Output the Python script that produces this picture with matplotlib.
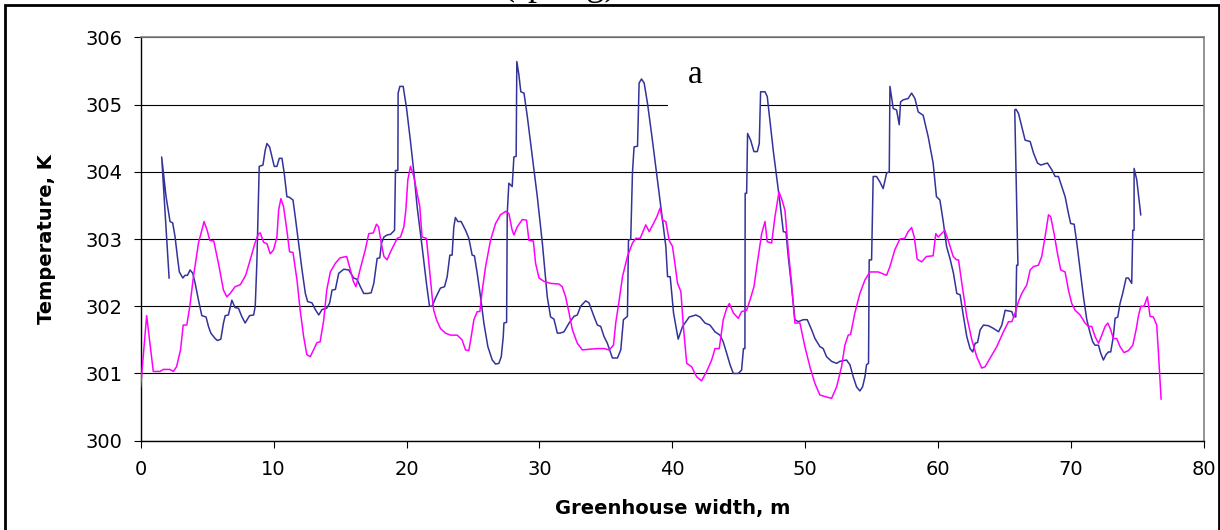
import matplotlib
matplotlib.use('Agg')
import matplotlib.pyplot as plt
from matplotlib.patches import Rectangle

# blue curve (Greenhouse width, m / Temperature, K)
blue_x = [2.14, 1.58, 1.91, 2.21, 2.41, 2.59, 2.76, 2.91, 3.17, 3.34, 3.52, 3.72, 3.92, 4.1, 4.35, 4.6, 4.92,
          5.1, 5.28, 5.6, 5.78, 6.03, 6.23, 6.36, 6.6, 6.86, 7.1, 7.36, 7.6, 7.86, 8.19, 8.5, 8.62, 8.74, 8.92,
          9.2, 9.37, 9.5, 9.7, 9.87, 10.05, 10.25, 10.43, 10.63, 10.8, 11.0, 11.2, 11.46, 11.63, 11.88, 12.14,
          12.39, 12.56, 12.89, 13.14, 13.4, 13.64, 14.0, 14.22, 14.4, 14.65, 14.9, 15.28, 15.65, 16.03, 16.28,
          16.53, 16.78, 17.1, 17.34, 17.54, 17.79, 17.99, 18.12, 18.3, 18.54, 18.8, 19.1, 19.17, 19.35, 19.37,
          19.5, 19.75, 20.0, 20.3, 20.55, 20.8, 21.17, 21.5, 21.73, 21.93, 22.18, 22.55, 22.86, 23.06, 23.26,
          23.43, 23.56, 23.68, 23.86, 24.11, 24.44, 24.69, 24.94, 25.11, 25.32, 25.57, 25.82, 26.12, 26.45,
          26.7, 26.95, 27.13, 27.28, 27.33, 27.53, 27.58, 27.7, 27.95, 28.08, 28.25, 28.3, 28.45, 28.6, 28.84,
          29.09, 29.46, 29.84, 30.22, 30.59, 30.84, 31.09, 31.35, 31.55, 31.85, 32.23, 32.6, 32.85, 33.1,
          33.48, 33.73, 34.1, 34.36, 34.61, 34.86, 35.11, 35.49, 35.87, 36.12, 36.32, 36.62, 36.7, 36.87,
          37.0, 37.12, 37.38, 37.5, 37.68, 37.88, 38.13, 38.5, 38.88, 39.26, 39.51, 39.64, 39.84, 40.09,
          40.44, 40.77, 41.27, 41.77, 42.08, 42.46, 42.83, 43.21, 43.58, 43.83, 44.09, 44.34, 44.59, 44.96,
          45.21, 45.35, 45.46, 45.48, 45.59, 45.66, 45.89, 46.14, 46.39, 46.54, 46.64, 46.97, 47.14, 47.34,
          47.59, 47.84, 48.1, 48.35, 48.55, 48.72, 48.97, 49.22, 49.47, 49.85, 50.15, 50.48, 50.73, 51.1,
          51.35, 51.6, 51.98, 52.36, 52.6, 53.1, 53.36, 53.61, 53.86, 54.11, 54.31, 54.49, 54.61, 54.76,
          54.81, 54.99, 55.11, 55.36, 55.61, 55.86, 56.12, 56.32, 56.37, 56.62, 56.87, 57.07, 57.17, 57.37,
          57.74, 58.0, 58.25, 58.5, 58.87, 59.25, 59.62, 59.87, 60.13, 60.38, 60.63, 60.9, 61.15, 61.4,
          61.65, 61.9, 62.15, 62.4, 62.6, 62.78, 62.96, 63.16, 63.41, 63.78, 64.16, 64.54, 64.79, 65.04,
          65.29, 65.54, 65.66, 65.84, 65.9, 66.0, 65.76, 65.85, 66.04, 66.29, 66.54, 66.92, 67.17, 67.47,
          67.72, 68.22, 68.55, 68.8, 69.05, 69.3, 69.55, 69.8, 69.97, 70.23, 70.43, 70.68, 70.93, 71.18,
          71.43, 71.63, 71.8, 72.06, 72.23, 72.43, 72.63, 72.81, 72.98, 73.18, 73.31, 73.51, 73.68, 73.88,
          74.14, 74.31, 74.56, 74.64, 74.74, 74.74, 74.94, 75.24]
blue_t = [302.42, 304.22, 303.63, 303.26, 303.24, 303.03, 302.74, 302.51, 302.42, 302.46, 302.46, 302.54,
          302.49, 302.34, 302.09, 301.86, 301.84, 301.7, 301.6, 301.52, 301.49, 301.51, 301.75, 301.86,
          301.87, 302.09, 301.98, 301.97, 301.85, 301.75, 301.86, 301.87, 302.0, 302.64, 304.08, 304.1,
          304.32, 304.42, 304.37, 304.23, 304.08, 304.08, 304.2, 304.2, 303.98, 303.63, 303.62, 303.58,
          303.33, 302.94, 302.54, 302.19, 302.07, 302.05, 301.95, 301.87, 301.95, 301.97, 302.05, 302.24,
          302.25, 302.49, 302.55, 302.54, 302.42, 302.4, 302.29, 302.19, 302.19, 302.2, 302.34, 302.71,
          302.72, 302.94, 303.03, 303.06, 303.07, 303.13, 304.02, 304.02, 305.17, 305.27, 305.27, 304.95,
          304.45, 304.0, 303.48, 302.89, 302.34, 302.0, 302.0, 302.12, 302.27, 302.29, 302.44, 302.76,
          302.76, 303.18, 303.32, 303.26, 303.26, 303.13, 303.01, 302.76, 302.75, 302.49, 302.14, 301.75,
          301.4, 301.2, 301.14, 301.15, 301.25, 301.55, 301.75, 301.76, 303.38, 303.83, 303.78, 304.22,
          304.23, 305.64, 305.45, 305.19, 305.17, 304.82, 304.23, 303.63, 302.94, 302.14, 301.84, 301.81,
          301.6, 301.6, 301.62, 301.75, 301.85, 301.87, 302.0, 302.08, 302.05, 301.85, 301.72, 301.7,
          301.55, 301.45, 301.23, 301.23, 301.35, 301.8, 301.85, 302.98, 303.0, 303.99, 304.37, 304.38,
          305.32, 305.38, 305.32, 305.02, 304.47, 303.88, 303.28, 302.89, 302.44, 302.44, 301.9, 301.51,
          301.7, 301.84, 301.87, 301.84, 301.75, 301.72, 301.62, 301.57, 301.47, 301.3, 301.13, 301.0,
          301.0, 301.05, 301.37, 301.37, 303.68, 303.68, 304.57, 304.47, 304.3, 304.3, 304.42, 305.19,
          305.19, 305.12, 304.77, 304.32, 303.93, 303.53, 303.11, 303.1, 302.74, 302.29, 301.8, 301.77,
          301.8, 301.8, 301.65, 301.52, 301.4, 301.37, 301.25, 301.18, 301.15, 301.18, 301.2, 301.13,
          300.95, 300.8, 300.74, 300.8, 300.95, 301.13, 301.15, 302.69, 302.69, 303.93, 303.93, 303.85,
          303.75, 303.98, 304.0, 305.27, 304.94, 304.92, 304.7, 305.04, 305.07, 305.09, 305.17, 305.09,
          304.89, 304.84, 304.52, 304.13, 303.63, 303.58, 303.26, 302.89, 302.7, 302.49, 302.19, 302.17,
          301.85, 301.55, 301.37, 301.32, 301.45, 301.46, 301.65, 301.72, 301.71, 301.67, 301.62, 301.72,
          301.94, 301.93, 301.92, 301.85, 301.84, 302.61, 302.61, 304.92, 304.93, 304.87, 304.67, 304.47,
          304.45, 304.28, 304.13, 304.1, 304.13, 304.03, 303.93, 303.93, 303.78, 303.63, 303.38, 303.23,
          303.22, 302.94, 302.54, 302.14, 301.8, 301.6, 301.47, 301.42, 301.42, 301.3, 301.2, 301.28,
          301.32, 301.32, 301.55, 301.82, 301.84, 302.04, 302.19, 302.42, 302.42, 302.34, 303.13, 303.13,
          304.05, 303.88, 303.36]

# magenta curve
pink_x = [0.0, 0.45, 0.95, 1.46, 1.7, 2.2, 2.46, 2.7, 3.0, 3.2, 3.47, 3.7, 3.97, 4.35, 4.77, 5.0, 5.2, 5.5,
          5.85, 6.23, 6.48, 6.73, 7.1, 7.5, 7.9, 8.24, 8.6, 8.87, 9.0, 9.25, 9.5, 9.75, 10.0, 10.25, 10.38,
          10.55, 10.75, 11.0, 11.2, 11.46, 11.76, 12.0, 12.26, 12.5, 12.76, 13.0, 13.27, 13.5, 13.77, 14.0,
          14.27, 14.65, 15.0, 15.5, 15.78, 16.0, 16.2, 16.5, 16.9, 17.16, 17.5, 17.74, 17.9, 18.1, 18.3,
          18.54, 18.8, 19.05, 19.3, 19.55, 19.8, 19.95, 20.1, 20.3, 20.55, 20.8, 21.0, 21.17, 21.5, 21.68,
          21.93, 22.05, 22.26, 22.55, 22.93, 23.31, 23.81, 24.18, 24.44, 24.69, 24.87, 25.07, 25.32, 25.52,
          25.7, 25.95, 26.32, 26.7, 27.07, 27.45, 27.7, 27.95, 28.08, 28.33, 28.71, 29.03, 29.21, 29.54,
          29.71, 29.97, 30.34, 30.84, 31.47, 31.72, 31.97, 32.23, 32.48, 32.85, 33.23, 33.73, 34.36, 34.86,
          35.24, 35.57, 35.74, 36.0, 36.25, 36.62, 37.0, 37.25, 37.58, 37.83, 38.0, 38.26, 38.58, 38.83,
          39.08, 39.26, 39.51, 39.76, 40.01, 40.19, 40.39, 40.64, 40.83, 41.08, 41.45, 41.83, 42.2, 42.58,
          42.96, 43.21, 43.53, 43.83, 44.09, 44.29, 44.59, 44.96, 45.21, 45.59, 45.84, 46.14, 46.39, 46.72,
          46.97, 47.14, 47.47, 47.72, 48.02, 48.22, 48.47, 48.72, 48.97, 49.22, 49.6, 49.97, 50.35, 50.73,
          51.1, 51.6, 51.98, 52.36, 52.73, 52.98, 53.23, 53.41, 53.73, 54.11, 54.49, 54.86, 55.49, 56.12,
          56.37, 56.74, 57.12, 57.49, 57.74, 58.0, 58.2, 58.42, 58.75, 59.12, 59.62, 59.82, 60.0, 60.25,
          60.5, 60.75, 61.13, 61.38, 61.53, 61.78, 62.15, 62.53, 62.9, 63.28, 63.53, 63.91, 64.41, 64.91,
          65.29, 65.54, 65.79, 66.04, 66.29, 66.67, 66.92, 67.17, 67.54, 67.79, 68.04, 68.3, 68.47, 68.72,
          68.97, 69.22, 69.55, 69.8, 70.05, 70.3, 70.68, 71.05, 71.3, 71.55, 71.8, 72.06, 72.31, 72.56,
          72.76, 72.98, 73.18, 73.43, 73.68, 73.98, 74.31, 74.64, 74.89, 75.06, 75.24, 75.49, 75.74, 75.94,
          76.19, 76.44, 76.56, 76.77]
pink_t = [300.8, 301.86, 301.03, 301.03, 301.06, 301.06, 301.03, 301.1, 301.35, 301.72, 301.72, 302.0,
          302.44, 302.94, 303.26, 303.13, 302.98, 302.97, 302.64, 302.24, 302.14, 302.19, 302.29, 302.32,
          302.46, 302.69, 302.94, 303.08, 303.09, 302.95, 302.93, 302.78, 302.84, 303.03, 303.43, 303.6,
          303.48, 303.13, 302.81, 302.8, 302.39, 301.94, 301.55, 301.28, 301.25, 301.35, 301.46, 301.47,
          301.79, 302.24, 302.51, 302.64, 302.72, 302.74, 302.54, 302.37, 302.29, 302.54, 302.84, 303.08,
          303.09, 303.22, 303.18, 302.94, 302.74, 302.69, 302.81, 302.91, 303.01, 303.03, 303.18, 303.43,
          303.88, 304.08, 303.93, 303.68, 303.48, 303.03, 303.01, 302.64, 302.14, 301.94, 301.8, 301.67,
          301.6, 301.57, 301.57, 301.5, 301.35, 301.34, 301.55, 301.8, 301.92, 301.92, 302.24, 302.59,
          302.98, 303.23, 303.36, 303.41, 303.38, 303.13, 303.06, 303.18, 303.29, 303.28, 302.98, 302.97,
          302.64, 302.42, 302.37, 302.34, 302.33, 302.29, 302.14, 301.9, 301.65, 301.45, 301.35, 301.36,
          301.37, 301.37, 301.35, 301.42, 301.75, 302.09, 302.44, 302.74, 302.94, 303.01, 303.01, 303.13,
          303.21, 303.11, 303.23, 303.33, 303.46, 303.28, 303.26, 302.98, 302.89, 302.64, 302.34, 302.22,
          301.7, 301.15, 301.1, 300.95, 300.89, 301.03, 301.2, 301.37, 301.37, 301.8, 301.97, 302.04,
          301.9, 301.82, 301.92, 301.94, 302.09, 302.29, 302.64, 303.08, 303.26, 302.96, 302.94, 303.33,
          303.7, 303.6, 303.43, 302.84, 302.34, 301.75, 301.75, 301.4, 301.1, 300.85, 300.68, 300.65,
          300.63, 300.8, 301.1, 301.42, 301.57, 301.58, 301.9, 302.19, 302.39, 302.51, 302.51, 302.46,
          302.59, 302.84, 303.0, 303.01, 303.11, 303.17, 303.03, 302.7, 302.66, 302.74, 302.75, 303.08,
          303.03, 303.08, 303.13, 302.98, 302.74, 302.69, 302.69, 302.34, 301.85, 301.5, 301.25, 301.08,
          301.1, 301.23, 301.4, 301.62, 301.77, 301.77, 301.9, 302.07, 302.19, 302.32, 302.54, 302.59,
          302.61, 302.74, 303.03, 303.36, 303.33, 303.08, 302.79, 302.54, 302.51, 302.24, 302.04, 301.94,
          301.87, 301.75, 301.7, 301.7, 301.55, 301.45, 301.57, 301.7, 301.75, 301.65, 301.52, 301.52,
          301.4, 301.31, 301.34, 301.42, 301.65, 301.85, 302.0, 302.0, 302.14, 301.85, 301.84, 301.72,
          301.35, 300.62]

x_ticks = [0, 10, 20, 30, 40, 50, 60, 70, 80]
y_ticks = [300, 301, 302, 303, 304, 305, 306]

fig = plt.figure(figsize=(12.2, 5.3), dpi=100)
ax = fig.add_axes([0.1153, 0.1685, 0.8716, 0.7611])

ax.plot(blue_x, blue_t, color='#333399', lw=1.1, zorder=3)
ax.plot(pink_x, pink_t, color='#ff00ff', lw=1.1, zorder=3)

ax.set_xlim(0, 80)
ax.set_ylim(300, 306)
ax.set_xticks(x_ticks)
ax.set_yticks(y_ticks)
ax.set_axisbelow(True)
ax.yaxis.grid(True, color='black', lw=0.8)
ax.xaxis.grid(False)

for s in ['top', 'right']:
    ax.spines[s].set_color('#808080')
    ax.spines[s].set_linewidth(1.2)
for s in ['left', 'bottom']:
    ax.spines[s].set_color('black')
    ax.spines[s].set_linewidth(1.0)

ax.tick_params(direction='out', length=5, width=0.8, labelsize=14, colors='black')
ax.tick_params(axis='x', pad=9)
ax.tick_params(axis='y', pad=8)

# Excel-style spaced out bold axis titles
ax.set_xlabel('Greenhouse width, m', fontsize=14, fontweight='bold', labelpad=14)
ax.set_ylabel('Temperature, K', fontsize=14, fontweight='bold', labelpad=21)

# white box behind the panel letter
ax.add_patch(Rectangle((39.7, 304.8), 6.9, 1.1, facecolor='white', edgecolor='none', zorder=1))
ax.text(41.75, 305.45, 'a', fontsize=24, family='Liberation Serif', ha='center', va='center', zorder=4)

# caption cut off at the top and the outer frame
fig.text(502 / 1220, 1 + 5 / 530, '(spring)', fontsize=26, family='Liberation Serif', va='baseline')
fig.add_artist(Rectangle((5 / 1220, -0.02), 1213.5 / 1220, 1.02 - 5 / 530, transform=fig.transFigure,
                         fill=False, edgecolor='black', lw=2, clip_on=False))

fig.savefig('out.png', dpi=100)
